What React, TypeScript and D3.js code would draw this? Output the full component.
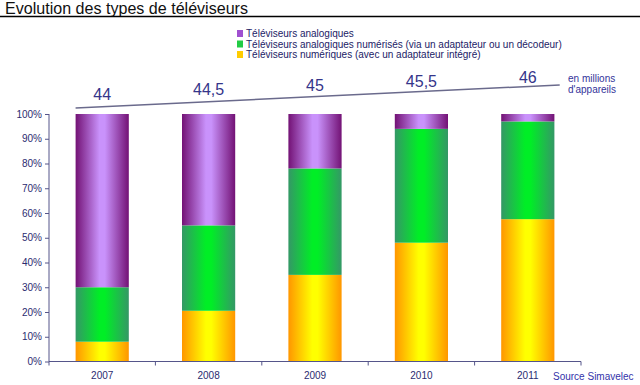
import React, { useEffect, useRef } from 'react';
import * as d3 from 'd3';

// data
const years = ['2007', '2008', '2009', '2010', '2011'];
const numeriques = [8, 20.5, 35, 48, 57.5];
const numerises = [22, 34.5, 43, 46, 39.5];
const analogiques = [70, 45, 22, 6, 3];
const totals = [44, 44.5, 45, 45.5, 46];
const totalLabels = ['44', '44,5', '45', '45,5', '46'];
const yTicks = [0, 10, 20, 30, 40, 50, 60, 70, 80, 90, 100];
const legendLabels = [
  'Téléviseurs analogiques',
  'Téléviseurs analogiques numérisés (via un adaptateur ou un décodeur)',
  'Téléviseurs numériques (avec un adaptateur intégré)',
];

const W = 640;
const H = 385;
const FONT = '"Liberation Sans", Arial, sans-serif';
const NAVY = '#2b2b70';

const App = () => {
  const ref = useRef<SVGSVGElement>(null);

  useEffect(() => {
    if (!ref.current) return;
    const svg = d3.select(ref.current);
    svg.selectAll('*').remove();

    const rows = years.map((y, i) => ({
      year: y,
      numeriques: numeriques[i],
      numerises: numerises[i],
      analogiques: analogiques[i],
    }));
    const keys = ['numeriques', 'numerises', 'analogiques'];
    const stacked = d3.stack().keys(keys)(rows as any);

    // gradients
    const defs = svg.append('defs');
    const grads = [
      { id: 'g-num', edge: '#ff9600', mid: '#ffff00' },
      { id: 'g-nms', edge: '#349866', mid: '#00ee26' },
      { id: 'g-ana', edge: '#731275', mid: '#c992fb' },
    ];
    grads.forEach(g => {
      const lg = defs.append('linearGradient').attr('id', g.id)
        .attr('x1', '0%').attr('x2', '100%').attr('y1', '0%').attr('y2', '0%');
      lg.append('stop').attr('offset', '0%').attr('stop-color', g.edge);
      lg.append('stop').attr('offset', '45%').attr('stop-color', g.mid);
      lg.append('stop').attr('offset', '55%').attr('stop-color', g.mid);
      lg.append('stop').attr('offset', '100%').attr('stop-color', g.edge);
    });

    // title
    svg.append('text')
      .attr('x', 5).attr('y', 14)
      .attr('textLength', 243).attr('lengthAdjust', 'spacingAndGlyphs')
      .style('font-family', FONT).style('font-size', '17px')
      .attr('fill', '#111')
      .text('Evolution des types de téléviseurs');
    svg.append('line')
      .attr('x1', 0).attr('x2', W).attr('y1', 16.5).attr('y2', 16.5)
      .attr('stroke', '#000').attr('stroke-width', 1.5);

    // scales
    const x = d3.scaleBand().domain(years).range([49, 581])
      .paddingInner(0.5).paddingOuter(0.25);
    const y = d3.scaleLinear().domain([0, 100]).range([361.5, 114]);

    // bars
    stacked.forEach((layer, li) => {
      svg.append('g').selectAll('rect')
        .data(layer)
        .enter()
        .append('rect')
        .attr('x', (d: any) => x(d.data.year)!)
        .attr('y', d => y(d[1]))
        .attr('width', x.bandwidth())
        .attr('height', d => y(d[0]) - y(d[1]))
        .attr('fill', `url(#${grads[li].id})`);
    });

    // y axis
    const yAxis = svg.append('g')
      .attr('transform', 'translate(49,0)')
      .call(d3.axisLeft(y).tickValues(yTicks).tickFormat(d => `${d}%`).tickSize(4).tickPadding(3));
    yAxis.selectAll('text').style('font-family', FONT).style('font-size', '10px').attr('fill', NAVY);
    yAxis.selectAll('line').attr('stroke', '#55558a');
    yAxis.select('.domain').attr('stroke', '#55558a').attr('d', `M0,${y(100)}V${y(0)}`);

    // x axis
    const xAxis = svg.append('g')
      .attr('transform', `translate(0,${y(0)})`)
      .call(d3.axisBottom(x).tickSize(0).tickPadding(10));
    xAxis.selectAll('text').style('font-family', FONT).style('font-size', '10px').attr('fill', NAVY);
    xAxis.select('.domain').attr('stroke', '#55558a').attr('d', `M49,0H581`);
    const bounds = d3.range(years.length + 1).map(i => 49 + i * x.step());
    xAxis.selectAll('line.bound').data(bounds).enter().append('line')
      .attr('class', 'bound')
      .attr('x1', d => d).attr('x2', d => d).attr('y1', 0).attr('y2', 4)
      .attr('stroke', '#55558a');

    // trend of total units
    const xi = d3.scaleLinear().domain([0, years.length - 1])
      .range([x(years[0])! + x.bandwidth() / 2, x(years[years.length - 1])! + x.bandwidth() / 2]);
    const yTot = d3.scaleLinear().domain([totals[0], totals[totals.length - 1]]).range([106.7, 86.5]);
    const totAt = d3.scaleLinear().domain([0, years.length - 1]).range([totals[0], totals[totals.length - 1]]);
    const ends = [-0.25, 4.3];
    svg.append('path')
      .datum(ends)
      .attr('d', d3.line<number>().x(i => xi(i)).y(i => yTot(totAt(i))))
      .attr('stroke', '#6a6a8c').attr('stroke-width', 1.5).attr('fill', 'none');

    svg.append('g').selectAll('text')
      .data(totals)
      .enter()
      .append('text')
      .attr('x', (_, i) => xi(i))
      .attr('y', (d, i) => yTot(d) - 7 + i * 0.8)
      .attr('text-anchor', 'middle')
      .style('font-family', FONT).style('font-size', '16px')
      .attr('fill', '#35358a')
      .text((_, i) => totalLabels[i]);

    svg.append('text').attr('x', 568).attr('y', 82)
      .style('font-family', FONT).style('font-size', '10px').attr('fill', '#33339a')
      .text('en millions');
    svg.append('text').attr('x', 568).attr('y', 93)
      .style('font-family', FONT).style('font-size', '10px').attr('fill', '#33339a')
      .text("d'appareils");

    // legend
    const legendColors = ['#a050d0', '#22cc44', '#ffcc00'];
    const lg = svg.append('g');
    legendLabels.forEach((t, i) => {
      const ly = 37 + i * 10.5;
      lg.append('rect').attr('x', 237).attr('y', ly - 7).attr('width', 6).attr('height', 7)
        .attr('fill', legendColors[i]);
      lg.append('text').attr('x', 246).attr('y', ly)
        .style('font-family', FONT).style('font-size', '10px').attr('fill', '#222266')
        .text(t);
    });

    // source
    svg.append('text').attr('x', 553).attr('y', 380)
      .style('font-family', FONT).style('font-size', '10px').attr('fill', '#3333aa')
      .text('Source Simavelec');
  }, []);

  return (
    <svg
      ref={ref}
      width={W}
      height={H}
      style={{ position: 'absolute', left: 0, top: 0, background: '#fff' }}
    />
  );
};

export default App;
